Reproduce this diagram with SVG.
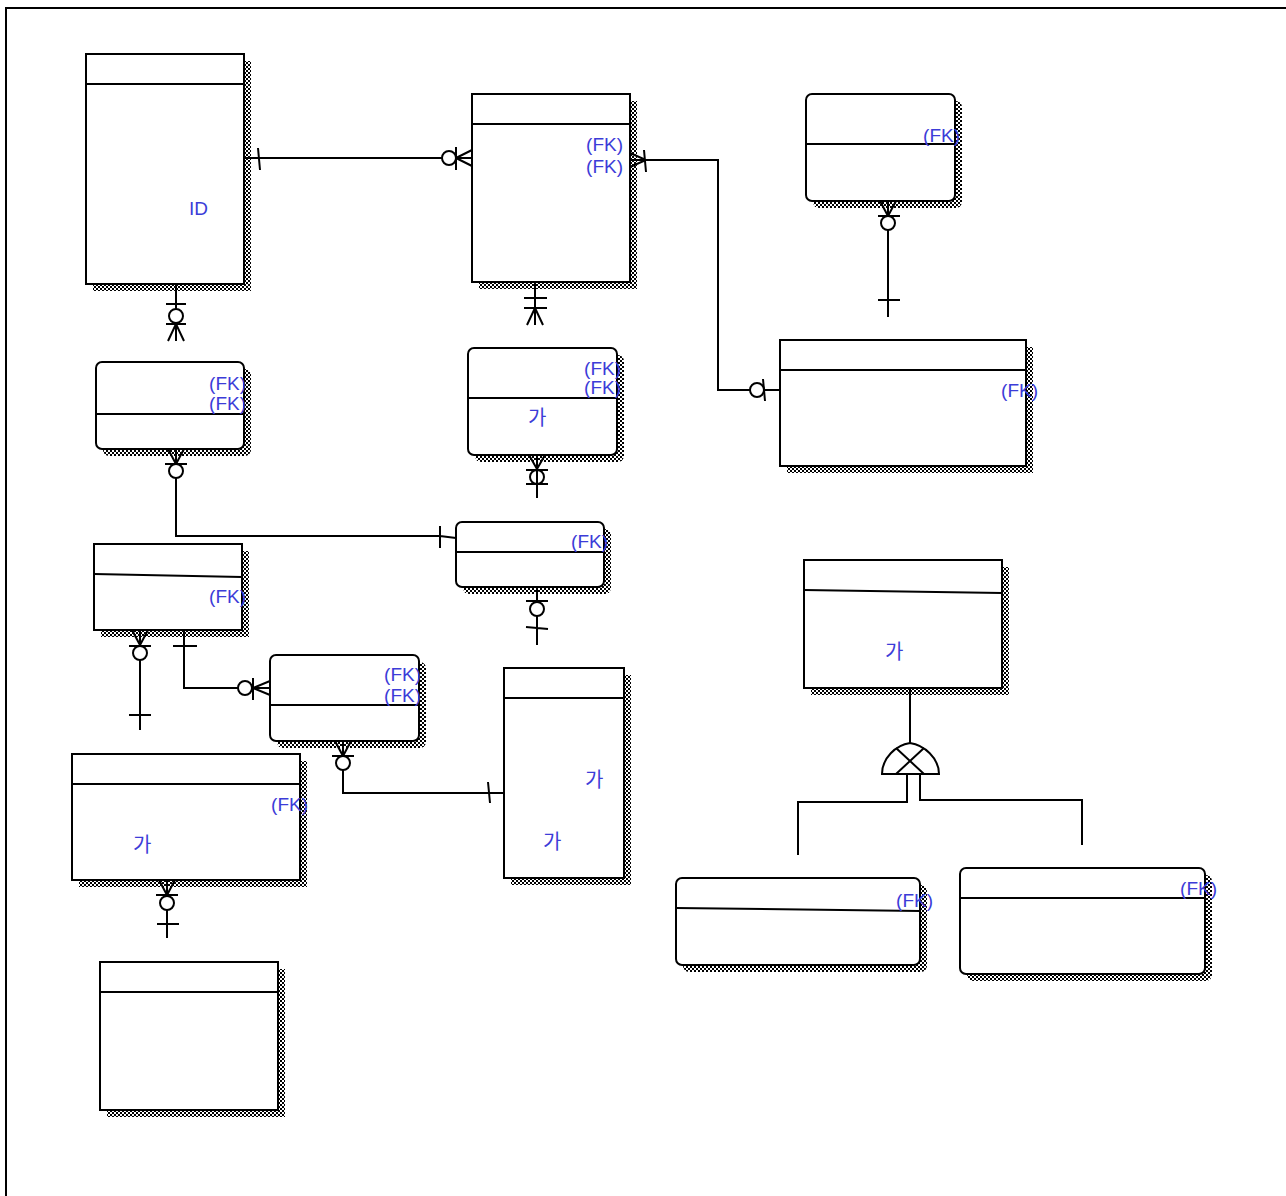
<svg xmlns="http://www.w3.org/2000/svg" width="1286" height="1196" viewBox="0 0 1286 1196">
<defs>
<pattern id="chk" width="4" height="4" patternUnits="userSpaceOnUse"><rect width="4" height="4" fill="#fff"/><rect width="2" height="2" fill="#000"/><rect x="2" y="2" width="2" height="2" fill="#000"/></pattern>
</defs>
<style>
.box{fill:#fff;stroke:#000;stroke-width:2}
.sh{fill:url(#chk)}
.ln{fill:none;stroke:#000;stroke-width:2}
.t{font-family:"Liberation Sans","Noto Sans CJK KR",sans-serif;font-size:19px;fill:#3c3cd8}
.k{font-family:"Noto Sans CJK KR",sans-serif;font-size:20px;fill:#3c3cd8}
.e{text-anchor:end}
</style>
<rect width="1286" height="1196" fill="#fff"/>
<path class="ln" d="M6,1196 V8 H1286"/>

<g id="e1">
<rect class="sh" x="93" y="61" width="158" height="230"/>
<rect class="box" x="86" y="54" width="158" height="230"/>
<path class="ln" d="M86,84 H244"/>
<text class="t" x="189" y="215">ID</text>
</g>
<g id="e2">
<rect class="sh" x="479" y="101" width="158" height="188"/>
<rect class="box" x="472" y="94" width="158" height="188"/>
<path class="ln" d="M472,124 H630"/>
<text class="t e" x="623" y="151">(FK)</text>
<text class="t e" x="623" y="173">(FK)</text>
</g>
<g id="e3">
<rect class="sh" x="813" y="101" width="149" height="107" rx="6"/>
<rect class="box" x="806" y="94" width="149" height="107" rx="6"/>
<path class="ln" d="M806,144 H955"/>
<text class="t e" x="960" y="142">(FK)</text>
</g>
<g id="e4">
<rect class="sh" x="103" y="369" width="148" height="87" rx="6"/>
<rect class="box" x="96" y="362" width="148" height="87" rx="6"/>
<path class="ln" d="M96,414 H244"/>
<text class="t e" x="246" y="390">(FK)</text>
<text class="t e" x="246" y="410">(FK)</text>
</g>
<g id="e5">
<rect class="sh" x="475" y="355" width="149" height="107" rx="6"/>
<rect class="box" x="468" y="348" width="149" height="107" rx="6"/>
<path class="ln" d="M468,398 H617"/>
<text class="t e" x="621" y="375">(FK)</text>
<text class="t e" x="621" y="394">(FK)</text>
<text class="k" x="528" y="425">가</text>
</g>
<g id="e6">
<rect class="sh" x="787" y="347" width="246" height="126"/>
<rect class="box" x="780" y="340" width="246" height="126"/>
<path class="ln" d="M780,370 H1026"/>
<text class="t e" x="1038" y="397">(FK)</text>
</g>
<g id="e7">
<rect class="sh" x="101" y="551" width="148" height="86"/>
<rect class="box" x="94" y="544" width="148" height="86"/>
<path class="ln" d="M94,574 L242,577"/>
<text class="t e" x="246" y="603">(FK)</text>
</g>
<g id="e8">
<rect class="sh" x="463" y="529" width="148" height="65" rx="6"/>
<rect class="box" x="456" y="522" width="148" height="65" rx="6"/>
<path class="ln" d="M456,552 H604"/>
<text class="t e" x="608" y="548">(FK)</text>
</g>
<g id="e9">
<rect class="sh" x="277" y="662" width="149" height="86" rx="6"/>
<rect class="box" x="270" y="655" width="149" height="86" rx="6"/>
<path class="ln" d="M270,705 H419"/>
<text class="t e" x="421" y="681">(FK)</text>
<text class="t e" x="421" y="702">(FK)</text>
</g>
<g id="e10">
<rect class="sh" x="79" y="761" width="228" height="126"/>
<rect class="box" x="72" y="754" width="228" height="126"/>
<path class="ln" d="M72,784 H300"/>
<text class="t e" x="308" y="811">(FK)</text>
<text class="k" x="133" y="852">가</text>
</g>
<g id="e11">
<rect class="sh" x="511" y="675" width="120" height="210"/>
<rect class="box" x="504" y="668" width="120" height="210"/>
<path class="ln" d="M504,698 H624"/>
<text class="k" x="585" y="787">가</text>
<text class="k" x="543" y="849">가</text>
</g>
<g id="e12">
<rect class="sh" x="811" y="567" width="198" height="128"/>
<rect class="box" x="804" y="560" width="198" height="128"/>
<path class="ln" d="M804,590 L1002,593"/>
<text class="k" x="885" y="659">가</text>
</g>
<g id="e13">
<rect class="sh" x="107" y="969" width="178" height="148"/>
<rect class="box" x="100" y="962" width="178" height="148"/>
<path class="ln" d="M100,992 H278"/>
</g>
<g id="e14">
<rect class="sh" x="683" y="885" width="244" height="87" rx="6"/>
<rect class="box" x="676" y="878" width="244" height="87" rx="6"/>
<path class="ln" d="M676,908 L920,911"/>
<text class="t e" x="933" y="907">(FK)</text>
</g>
<g id="e15">
<rect class="sh" x="967" y="875" width="245" height="106" rx="6"/>
<rect class="box" x="960" y="868" width="245" height="106" rx="6"/>
<path class="ln" d="M960,898 H1205"/>
<text class="t e" x="1217" y="895">(FK)</text>
</g>

<g id="connectors" class="ln">
<path d="M244,158 H472 M258,148 L260,170 M456,147 V170 M456,158 L472,150 M456,158 L472,166"/>
<circle cx="449" cy="158" r="7" fill="#fff"/>
<path d="M176,284 V341 M166,304 H186 M166,324 H186 M176,324 L168,341 M176,324 L184,341"/>
<circle cx="176" cy="316" r="7" fill="#fff"/>
<path d="M535,282 V325 M524,298 H547 M524,308 H547 M535,308 L527,325 M535,308 L543,325"/>
<path d="M630,160 H718 V390 H780 M630,153 L646,160 L630,167 M644,150 L646,172 M763,379 L765,401"/>
<circle cx="757" cy="390" r="7" fill="#fff"/>
<path d="M888,201 V317 M880,201 L888,216 L896,201 M878,216 H900 M878,300 H900"/>
<circle cx="888" cy="223" r="7" fill="#fff"/>
<path d="M176,449 V536 H440 L456,538 M168,449 L176,464 L184,449 M165,464 H187 M440,526 V548"/>
<circle cx="176" cy="471" r="7" fill="#fff"/>
<path d="M537,587 V645 M526,601 H548 M526,627 L548,629"/>
<circle cx="537" cy="609" r="7" fill="#fff"/>
<path d="M537,455 V498 M529,455 L537,469 L545,455 M526,470 H548 M526,484 H548"/>
<circle cx="537" cy="477" r="7" fill="none"/>
<path d="M140,630 V730 M132,630 L140,645 L148,630 M129,646 H151 M129,715 H151"/>
<circle cx="140" cy="653" r="7" fill="#fff"/>
<path d="M184,630 V688 H270 M173,646 H197 M253,678 V700 M253,688 L270,681 M253,688 L270,695"/>
<circle cx="245" cy="688" r="7" fill="#fff"/>
<path d="M343,741 V793 H504 M335,741 L343,756 L351,741 M332,756 H354 M488,782 L490,803"/>
<circle cx="343" cy="763" r="7" fill="#fff"/>
<path d="M167,880 V938 M159,880 L167,895 L175,880 M156,895 H178 M157,924 H179"/>
<circle cx="167" cy="903" r="7" fill="#fff"/>
<path d="M910,688 V743"/>
<path d="M882,774 C882,758 896,745 910,743 C924,745 939,758 939,774 Z" fill="#fff"/>
<path d="M896,748 L924,774 M924,748 L896,774"/>
<path d="M907,774 V802 H798 V855 M920,774 V800 H1082 V845"/>
</g>
</svg>
